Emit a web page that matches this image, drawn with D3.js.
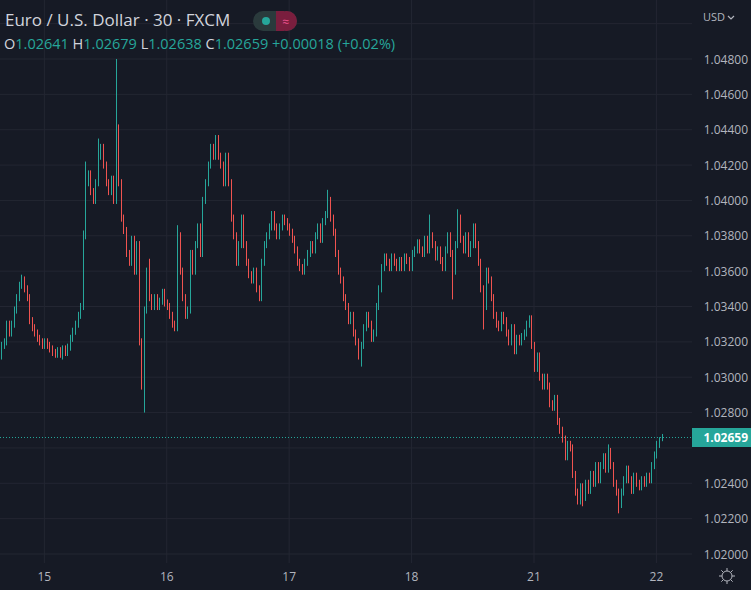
<!DOCTYPE html>
<html><head><meta charset="utf-8">
<script src="https://cdn.jsdelivr.net/npm/d3@7"></script>
<style>body{margin:0;background:#161a25;}svg{display:block;font-family:"Open Sans","Noto Sans",sans-serif;}</style>
</head><body><svg id="c" width="751" height="590"></svg>
<script>
// 30-minute closes, EUR/USD (FXCM); open = previous close
const closes = [
1.0318,1.0320,1.0330,1.0325,1.0330,1.0338,1.0345,1.0352,1.0355,1.0350,1.0345,1.0332,1.0328,1.0325,1.0322,1.0320,1.0318,
1.0320,1.0318,1.0316,1.0314,1.0313,1.0315,1.0312,1.0316,1.0314,1.0317,1.0322,1.0326,1.0330,1.0335,
1.0340,1.0380,1.0410,1.0415,1.0405,1.0400,1.0410,1.0425,1.0430,1.0420,1.0410,1.0405,1.0412,1.0400,
1.0420,1.0410,1.0390,1.0383,1.0370,1.0365,1.0378,1.0360,1.0375,1.0320,1.0295,1.0338,1.0355,1.0345,1.0340,1.0345,1.0340,1.0343,1.0348,1.0342,
1.0340,1.0335,1.0330,1.0328,1.0380,1.0360,1.0345,1.0335,1.0338,1.0370,1.0360,1.0375,1.0385,1.0370,1.0400,1.0410,1.0420,1.0430,1.0425,1.0435,1.0425,1.0420,1.0410,1.0425,1.0410,1.0390,1.0380,1.0365,1.0375,1.0390,1.0375,1.0365,1.0358,1.0355,1.0360,1.0350,1.0345,1.0365,1.0375,1.0380,1.0385,1.0392,1.0385,1.0380,1.0385,1.0390,1.0388,1.0385,
1.0382,1.0378,1.0372,1.0365,1.0362,1.0360,1.0365,1.0370,1.0375,1.0372,1.0380,1.0385,1.0378,1.0388,1.0392,1.0400,1.0390,
1.0382,1.0370,1.0360,1.0355,1.0345,1.0340,1.0332,1.0335,1.0325,1.0320,1.0312,1.0318,1.0328,1.0335,1.0330,1.0322,1.0325,1.0340,1.0350,1.0362,1.0368,1.0365,1.0362,1.0368,1.0365,1.0362,1.0366,1.0362,1.0368,1.0366,1.0362,
1.0370,1.0372,1.0376,1.0372,1.0370,1.0378,1.0372,1.0380,1.0375,1.0368,1.0372,1.0366,1.0362,1.0372,1.0380,1.0370,1.0360,1.0375,1.0390,1.0378,1.0372,1.0380,1.0370,1.0375,1.0385,1.0375,1.0365,1.0350,1.0340,1.0360,1.0355,1.0345,1.0335,
1.0330,1.0328,1.0335,1.0332,1.0325,1.0320,1.0328,1.0315,1.0322,1.0320,1.0323,1.0325,1.0330,1.0333,1.0318,
1.0305,1.0312,1.0300,1.0295,1.0300,1.0295,1.0285,1.0283,1.0288,1.0275,1.0270,1.0265,1.0255,1.0262,1.0260,1.0245,1.0235,1.0230,1.0238,1.0232,1.0240,1.0236,1.0245,1.0240,1.0250,1.0242,1.0250,1.0255,1.0248,1.0258,1.0250,1.0240,1.0235,1.0228,1.0235,1.0242,1.0248,1.0242,1.0236,1.0244,1.0240,1.0238,1.0242,1.0240,1.0244,1.0242,1.0250,1.0256,1.0262,1.02641,1.02659
];
const firstOpen = 1.0312;
const wick = 0.0002;
// explicit highs / lows where wicks stand out
const highOverrides = {8:1.0358,32:1.0383,33:1.0422,38:1.0435,45:1.0480,46:1.0443,57:1.0362,58:1.0367,69:1.0386,84:1.0437,106:1.0394,128:1.0406,168:1.0392,179:1.0395,238:1.0262,259:1.02679};
const lowOverrides = {23:1.0311,55:1.0293,56:1.0280,98:1.0353,118:1.0358,141:1.0306,177:1.0344,189:1.0327,201:1.0313,228:1.0227,242:1.0223,259:1.02638};
const dayLabels = ["15","16","17","18","21","22"];
const dayStartIdx = [17,65,113,161,209,257];
const priceTicks = [1.020,1.022,1.024,1.026,1.028,1.030,1.032,1.034,1.036,1.038,1.040,1.042,1.044,1.046,1.048,1.050];
const lastClose = 1.02659;

const svg = d3.select("#c");
const W=751,H=590,plotR=692,plotB=563;
const UP="#26a69a",DN="#ef5350",GRID="#232632",TXT="#b2b5be";
svg.append("rect").attr("width",W).attr("height",H).attr("fill","#161a25");
const x = d3.scaleLinear().domain([0,259]).range([1,661.5]);
const y = d3.scaleLinear().domain([1.020,1.048]).range([554,59]);

const g = svg.append("g");
priceTicks.forEach(p=>{ g.append("line").attr("x1",0).attr("x2",plotR).attr("y1",y(p)).attr("y2",y(p)).attr("stroke",GRID); });
dayStartIdx.forEach(i=>{ g.append("line").attr("x1",x(i)).attr("x2",x(i)).attr("y1",0).attr("y2",plotB).attr("stroke",GRID); });

const candles = closes.map((c,i)=>{
  const o = i===0?firstOpen:closes[i-1];
  const h = highOverrides[i]!==undefined?highOverrides[i]:Math.max(o,c)+wick;
  const l = lowOverrides[i]!==undefined?lowOverrides[i]:Math.min(o,c)-wick;
  return {i,o,h,l,c};
});
g.selectAll("line.c").data(candles).enter().append("line")
  .attr("x1",d=>Math.round(x(d.i))+0.5).attr("x2",d=>Math.round(x(d.i))+0.5)
  .attr("y1",d=>y(d.h)).attr("y2",d=>y(d.l))
  .attr("stroke",d=>d.c>=d.o?UP:DN).attr("stroke-width",1);

g.append("line").attr("x1",0).attr("x2",plotR).attr("y1",y(lastClose)).attr("y2",y(lastClose))
  .attr("stroke",UP).attr("stroke-dasharray","1,2");

// price axis
svg.append("rect").attr("x",plotR).attr("y",0).attr("width",W-plotR).attr("height",H).attr("fill","#161a25");
priceTicks.forEach(p=>{
  const yy=y(p);
  if (yy<40) return;                               // hidden under currency label
  if (Math.abs(yy-y(lastClose))<16) return;        // hidden under last-price box
  svg.append("text").attr("x",748).attr("y",yy+4.5).attr("text-anchor","end").attr("fill",TXT)
    .attr("font-size",12).text(d3.format(".5f")(p));
});
svg.append("text").attr("x",703).attr("y",21).attr("fill",TXT).attr("font-size",11).text("USD");
svg.append("path").attr("d","M728,16 l3,3 l3,-3").attr("stroke",TXT).attr("fill","none").attr("stroke-width",1.2);
svg.append("rect").attr("x",plotR).attr("y",y(lastClose)-9.5).attr("width",W-plotR).attr("height",19).attr("fill",UP);
svg.append("text").attr("x",748).attr("y",y(lastClose)+4.5).attr("text-anchor","end").attr("fill","#fff")
  .attr("font-size",12).attr("font-weight","bold").text(d3.format(".5f")(lastClose));

// time axis
svg.append("rect").attr("x",0).attr("y",plotB).attr("width",W).attr("height",H-plotB).attr("fill","#161a25");
dayStartIdx.forEach((i,k)=>{
  svg.append("text").attr("x",x(i)).attr("y",581).attr("text-anchor","middle").attr("fill",TXT).attr("font-size",12).text(dayLabels[k]);
});
const gear = svg.append("g").attr("transform","translate(727,576)");
gear.append("circle").attr("r",5).attr("fill","none").attr("stroke",TXT);
d3.range(8).forEach(k=>{const a=k*Math.PI/4;gear.append("line").attr("x1",5*Math.cos(a)).attr("y1",5*Math.sin(a)).attr("x2",8*Math.cos(a)).attr("y2",8*Math.sin(a)).attr("stroke",TXT);});

// header
svg.append("text").attr("x",5).attr("y",26).attr("fill","#d1d4dc").attr("font-size",17).text("Euro / U.S. Dollar · 30 · FXCM");
svg.append("rect").attr("x",253).attr("y",11).attr("width",44).attr("height",20).attr("rx",10).attr("fill","#2a3a3c");
svg.append("rect").attr("x",276).attr("y",11).attr("width",21).attr("height",20).attr("rx",10).attr("fill","#7a1e3e");
svg.append("rect").attr("x",276).attr("y",11).attr("width",8).attr("height",20).attr("fill","#7a1e3e");
svg.append("circle").attr("cx",266).attr("cy",21).attr("r",4).attr("fill",UP);
svg.append("text").attr("x",286).attr("y",26).attr("text-anchor","middle").attr("fill","#ef5390").attr("font-size",12).text("≈");
const ohlc = svg.append("text").attr("x",4).attr("y",49).attr("font-size",14.5);
[["O","#d1d4dc"],["1.02641 ",UP],["H","#d1d4dc"],["1.02679 ",UP],["L","#d1d4dc"],["1.02638 ",UP],["C","#d1d4dc"],["1.02659 ",UP],["+0.00018 (+0.02%)",UP]]
 .forEach(([t,c])=>ohlc.append("tspan").attr("fill",c).text(t));
</script></body></html>
